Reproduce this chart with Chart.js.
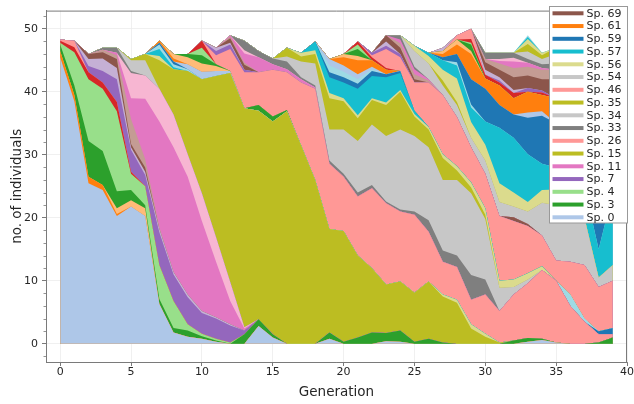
<!DOCTYPE html>
<html>
<head>
<meta charset="utf-8">
<script src="https://cdn.jsdelivr.net/npm/chart.js@4.4.1/dist/chart.umd.min.js"></script>
<style>
  html, body { margin: 0; padding: 0; background: #fff; }
  #wrap { width: 634px; height: 404px; }
</style>
</head>
<body>
<div id="wrap"><canvas id="chart" width="634" height="404"></canvas></div>
<script>
// --- DATA ---
const GEN_COUNT = 40;
const gens = Array.from({ length: GEN_COUNT }, (_, i) => i);
const xTicks = [0, 5, 10, 15, 20, 25, 30, 35, 40];
const yTicks = [0, 10, 20, 30, 40, 50];
const legendSpecies = [69, 61, 59, 57, 56, 54, 46, 35, 34, 33, 26, 15, 11, 7, 4, 3, 0];

// zero before `start`, then the listed counts, zero after
function from(start, vals) {
    const a = new Array(GEN_COUNT).fill(0);
    vals.forEach((v, i) => { a[start + i] = v; });
    return a;
}

const sp0 = [45.5, 38.5, 25.5, 24.4, 20.3, 21.8, 20.3, 6.3, 1.8, 1.1, 0.8, 0.3, 0, 0, 2.8, 1, 0, 0, 0, 0.8,
             0, 0, 0, 0.4, 0.3, 0, 0, 0, 0, 0, 0, 0, 0, 0.3, 0.6, 0.2, 0, 0, 0, 0];
const sp1 = from(0, [1, 1, 1, 0.8, 0.3]);
const sp2 = from(4, [0.9, 1.0, 1.2]);
const sp3 = [1, 1.5, 5.7, 5.4, 2.7, 1.6, 0.5, 0.8, 0.7, 1.0, 0.4, 0.2, 0, 1.5, 1.1, 0.5, 0, 0, 0, 1.0,
             0.3, 1.0, 1.8, 1.3, 1.8, 0.3, 0.8, 0.2, 0, 0, 0, 0, 0.5, 0.6, 0.2, 0, 0, 0, 0.2, 1.0];
const sp4 = from(0, [0.3, 5.3, 9.8, 9.9, 12.7, 2.6, 3, 5.4, 4.3, 1.0, 0.4, 0.3, 0.2]);
const sp5 = from(0, [0.3, 0.8, 1.1, 1.0, 1.5, 0.3]);
const sp6 = from(0, [0.2, 1.0]);
const sp7 = from(2, [1, 1.8, 3.6, 3.5, 1.8, 5.2, 4.2, 4.3, 3.3, 3.2, 2.7, 0.6]);
const sp8 = from(2, [1.1, 2.0, 1.8, 0.4, 0.5, 0.5, 0.4, 0.4, 0.3, 0.2, 0.2]);
const sp9 = from(2, [0.8, 1.0, 1.4, 0.5, 0.7]);
const sp10 = from(3, [0.4, 0.6, 4, 1.3, 0.3]);
const sp11 = from(4, [0.4, 3.3, 9.6, 16.8, 19.8, 18.7, 14.3, 8.8, 3.7, 0.3]);
const sp12 = from(5, [4, 3.7, 5.2, 5.2, 3.6, 4.4, 3.9, 3.0, 0.2]);
const sp13 = from(3, [0.3, 0.8, 0.3]);
const sp14 = from(5, [1.7, 2.4]);
const sp15 = from(5, [0.2, 1, 4.5, 7.2, 13.2, 18.1, 25.6, 33.2, 34.8, 33.1, 33.8, 36.9, 31.5, 26, 16.4,
                      17.6, 13, 10.2, 7.7, 7.8, 7.8, 9.1, 7.3, 6.5, 2.4, 1.1, 0.2]);
const sp16 = [0, 0, 0, 0, 0, 0, 0, 0.7, 0, 0, 0, 0, 0, 0, 0, 0, 0, 0, 0, 0,
              0, 0, 0, 0, 0, 0, 0, 0.3, 0.5, 0.7, 0.5, 0, 0, 0, 0, 0, 0, 0, 0, 0];
const sp17 = from(7, [1.1, 0.3]);
const sp18 = from(7, [0.7, 0.5, 0.3]);
const sp19 = from(7, [0.3, 0.4]);
const sp20 = from(9, [0.8, 1.2, 0.8, 0.3]);
const sp21 = from(7, [0.3, 0.5]);
const sp22 = from(8, [0.7, 1.1, 1.3, 0.8]);
const sp23 = from(9, [0.5, 1.3, 0.3, 0, 0, 0.9, 0.8, 0.2]);
const sp24 = from(10, [1.2]);
const sp25 = from(10, [1.1]);
const sp26 = from(11, [1.4, 3.5, 5.7, 5.2, 7.4, 6, 10, 14.5, 10.4, 8.6, 9.4, 12.7, 12.9, 11.1, 12.4,
                       7.9, 5.2, 5.2, 3.9, 6.2, 5.0, 7.3, 8.7, 10.9, 9.8, 6, 3.5, 1.3, 0.5]);
const sp27 = from(11, [0.7, 0.7, 0.4]);
const sp28 = from(11, [0.5, 0.3]);
const sp29 = from(12, [0.7, 0.8]);
const sp30 = from(12, [0.3, 0.3]);
const sp31 = from(12, [0.2, 1.5, 2.4, 0.9, 0.5, 0.5, 0.2]);
const sp32 = from(13, [0.5]);
const sp33 = from(13, [1.5, 1, 0.9, 1.2, 0.3, 0.3, 0.5, 0.5, 0.6, 0.5, 0.3, 0.3, 0.5, 1.8, 1.8, 1.8, 3.9, 2.4]);
const sp34 = from(16, [0.8, 2.5, 3.5, 4.9, 7, 8.2, 9.6, 10.4, 12.7, 12, 11.6, 11.2, 12, 13, 9.6, 3.7, 1.2, 0.6]);
const sp35 = from(16, [1.4, 0.8, 1.5, 5, 4.5, 3.6, 3.9, 4.9, 6, 3.1, 2.8, 3.5, 1.5, 0.9, 0.7]);
const sp36 = from(17, [0.6, 0.6, 0.8, 0.5, 0.5, 0.3, 0.4, 0.3, 0.4, 0.4, 0.6, 0.7, 0.8, 1.0, 1.1, 1.2, 1.0, 0.6]);
const sp37 = from(18, [1.4, 2.5, 2.5, 4.2, 3.5, 4, 2.7, 0.5]);
const sp38 = from(19, [1.1, 0.9, 0.7, 0.3, 0, 0, 0, 0, 0, 0, 0, 0, 0, 0, 0, 0, 0, 1.8, 0.5]);
const sp39 = from(19, [0.8, 0.8, 0.8, 0.8, 0.5, 0.3, 0, 0, 0, 0, 0, 0, 0, 0, 0, 0, 0, 0, 0, 0.5, 1.0]);
const sp40 = from(19, [1.0, 1.0, 0.8, 0.4]);
const sp41 = from(20, [1.3, 2.2, 1.0, 0.7]);
const sp42 = from(20, [0.5, 0.7]);
const sp43 = from(21, [1.1]);
const sp44 = from(21, [0.7]);
const sp45 = from(21, [0.5, 0.5, 0.3]);
const sp46 = from(22, [0.3, 3, 2.2, 4.5, 7.1, 9.4, 7.8, 5.6, 5.5, 10.3, 9.3, 7.5, 4.9, 3.2, 5.2, 8.5, 7, 7.5]);
const sp47 = from(22, [0.4, 0.5, 0.5]);
const sp48 = from(23, [0.7]);
const sp49 = from(23, [1.0, 1.0, 0.5, 0, 0, 0, 0, 0, 0, 0.6, 0.3]);
const sp50 = from(24, [0.7, 0.8, 0.3]);
const sp51 = from(24, [0.6, 0.8, 0.2]);
const sp53 = from(24, [0.7, 0.4]);
const sp54 = from(25, [2.5, 2.5, 1.5, 1.9, 1.5, 2.1, 2.2, 1.7, 2, 5.2, 8.8, 8, 7.5, 1.5, 2.5]);
const sp55 = from(27, [0.8, 0.5]);
const sp56 = from(25, [0.8, 1.2, 1.7, 3.7, 2.5, 2.5, 3, 2.2, 1.5, 2, 2.5, 1]);
const sp57 = from(26, [0.5, 1.5, 2.1, 2.3, 3.7, 8.8, 8.7, 7.6, 4.2, 3.5, 6, 5, 4.5, 11.5]);
const sp58 = from(28, [0.5, 0.5]);
const sp59 = from(27, [0.5, 1.3, 4, 5.2, 3.6, 3.7, 5.8, 7.6, 7, 6, 8, 15, 6]);
const sp60 = from(33, [0.8, 0.7]);
const sp61 = from(27, [0.5, 1.5, 4, 1.6, 3.1, 2.6, 3.3, 2.6, 4, 4, 4, 5, 5]);
const sp62 = from(27, [0.5, 0.8, 0.5]);
const sp63 = from(29, [1.0]);
const sp64 = from(29, [0.3]);
const sp65 = from(29, [0.6, 0.6, 0.5, 0.8, 0, 0.4]);
const sp66 = from(28, [0.7, 1.6]);
const sp67 = from(31, [0.3, 0, 0.6, 0.3]);
const sp68 = from(27, [0.5, 0, 0, 0.8, 0.5, 0.5]);
const sp69 = from(30, [1.2, 1.2, 2, 2, 1.8, 3, 3, 3, 3, 3]);
const sp70 = from(30, [0.5, 1.0, 1.5, 1.4, 1.5, 1.5, 1.5, 1.5, 1.5, 1.5]);
const sp71 = from(31, [0.4, 1, 0.6, 0.3]);
const sp72 = from(31, [0.3, 0.6]);
const sp73 = from(30, [1.0, 1.0, 0.8, 0.6, 0.6, 1, 1, 1, 1, 1]);
const sp74 = from(33, [1.2, 0.8, 1.5, 1.5, 1.5, 1.5, 1.5]);
const sp75 = from(33, [1.2, 0.6, 1, 1, 1, 1, 1]);
const sp76 = from(33, [0.8, 0.4]);
const sp77 = from(33, [0.3]);
const sp78 = from(33, [0.3]);

// bottom-to-top stacking order: [species number, counts]
const stack = [
    [0, sp0], [1, sp1], [2, sp2], [3, sp3], [4, sp4], [5, sp5], [6, sp6], [7, sp7], [8, sp8],
    [9, sp9], [10, sp10], [11, sp11], [12, sp12], [13, sp13], [14, sp14], [15, sp15], [16, sp16],
    [17, sp17], [18, sp18], [19, sp19], [20, sp20], [21, sp21], [22, sp22], [23, sp23], [24, sp24],
    [25, sp25], [26, sp26], [27, sp27], [28, sp28], [29, sp29], [30, sp30], [31, sp31], [32, sp32],
    [33, sp33], [34, sp34], [35, sp35], [36, sp36], [37, sp37], [39, sp39], [38, sp38], [40, sp40],
    [41, sp41], [42, sp42], [43, sp43], [44, sp44], [45, sp45], [46, sp46], [47, sp47], [48, sp48],
    [49, sp49], [50, sp50], [51, sp51], [53, sp53], [54, sp54], [55, sp55], [56, sp56], [57, sp57],
    [58, sp58], [59, sp59], [60, sp60], [61, sp61], [62, sp62], [63, sp63], [64, sp64], [65, sp65],
    [66, sp66], [67, sp67], [68, sp68], [69, sp69], [70, sp70], [71, sp71], [72, sp72], [73, sp73],
    [74, sp74], [75, sp75], [76, sp76], [77, sp77], [78, sp78]
];

// --- STYLE ---
const tab20 = ['#1f77b4', '#aec7e8', '#ff7f0e', '#ffbb78', '#2ca02c', '#98df8a', '#d62728', '#ff9896',
               '#9467bd', '#c5b0d5', '#8c564b', '#c49c94', '#e377c2', '#f7b6d2', '#7f7f7f', '#c7c7c7',
               '#bcbd22', '#dbdb8d', '#17becf', '#9edae5'];
const speciesColor = n => tab20[(n + 1) % 20];
const FONT = "'DejaVu Sans', sans-serif";
const FRAME = '#7a7a7a';
const TEXT = '#262626';

// every band fills down to zero; lower bands are painted later on top,
// so neighbouring edges never leave white seams
const datasets = stack.map(([n, counts]) => {
    const color = speciesColor(n);
    return {
        label: 'Sp. ' + n,
        data: gens.map((g, k) => ({ x: g, y: counts[k] })),
        backgroundColor: color,
        borderColor: color,
        borderWidth: 0,
        pointRadius: 0,
        tension: 0,
        fill: 'origin'
    };
});

// frame on top/right, minor y ticks, and the legend inside the axes
const decorations = {
    id: 'decorations',
    afterDraw(chart) {
        const { ctx, chartArea: a, scales } = chart;
        ctx.save();
        ctx.strokeStyle = FRAME;
        ctx.lineWidth = 1;
        ctx.beginPath();
        ctx.moveTo(a.left, a.top + 0.5);
        ctx.lineTo(a.right, a.top + 0.5);
        ctx.moveTo(a.right - 0.5, a.top);
        ctx.lineTo(a.right - 0.5, a.bottom);
        ctx.stroke();

        ctx.lineWidth = 0.8;
        ctx.beginPath();
        for (let v = -2; v <= 52; v += 2) {
            if (v % 10 === 0) continue;
            const y = Math.round(scales.y.getPixelForValue(v)) + 0.5;
            ctx.moveTo(a.left - 2.5, y);
            ctx.lineTo(a.left, y);
        }
        ctx.stroke();

        const lx = 549.5, ly = 6.5, lw = 78, lh = 216.5;
        ctx.fillStyle = '#ffffff';
        ctx.fillRect(lx, ly, lw, lh);
        ctx.strokeStyle = '#999999';
        ctx.lineWidth = 1;
        ctx.strokeRect(lx, ly, lw, lh);
        ctx.font = '11px ' + FONT;
        ctx.textBaseline = 'middle';
        ctx.textAlign = 'left';
        legendSpecies.forEach((n, i) => {
            const y = 13.3 + i * 12.75;
            ctx.strokeStyle = speciesColor(n);
            ctx.lineWidth = 4;
            ctx.beginPath();
            ctx.moveTo(552.5, y);
            ctx.lineTo(583.5, y);
            ctx.stroke();
            ctx.fillStyle = TEXT;
            ctx.fillText('Sp. ' + n, 586.5, y + 0.5);
        });
        ctx.restore();
    }
};

new Chart(document.getElementById('chart').getContext('2d'), {
    type: 'line',
    data: { datasets },
    options: {
        responsive: false,
        animation: false,
        layout: { padding: { left: 0, right: 6, top: 4, bottom: 0 } },
        plugins: {
            legend: { display: false },
            tooltip: { enabled: false },
            filler: { propagate: false }
        },
        scales: {
            x: {
                type: 'linear',
                min: -1,
                max: 40,
                afterBuildTicks: s => { s.ticks = xTicks.map(v => ({ value: v })); },
                afterFit: s => { s.height = 42; },
                grid: { color: '#ececec', lineWidth: 0.8, tickColor: FRAME, tickLength: 4, tickWidth: 1 },
                border: { color: FRAME, width: 1 },
                ticks: { color: TEXT, font: { family: FONT, size: 11 }, padding: 0, maxRotation: 0 },
                title: { display: true, text: 'Generation', color: TEXT, font: { family: FONT, size: 13.5 }, padding: { top: 0, bottom: 3 } }
            },
            y: {
                stacked: true,
                min: -2.9,
                max: 52.9,
                afterBuildTicks: s => { s.ticks = yTicks.map(v => ({ value: v })); },
                afterFit: s => { s.width = 46; },
                grid: { color: '#ececec', lineWidth: 0.8, tickColor: FRAME, tickLength: 4, tickWidth: 1 },
                border: { color: FRAME, width: 1 },
                ticks: { color: TEXT, font: { family: FONT, size: 11 }, padding: 4 },
                title: { display: true, text: 'no. of individuals', color: TEXT, font: { family: FONT, size: 13.5 }, padding: { top: 9, bottom: 0 } }
            }
        }
    },
    plugins: [decorations]
});
</script>
</body>
</html>
